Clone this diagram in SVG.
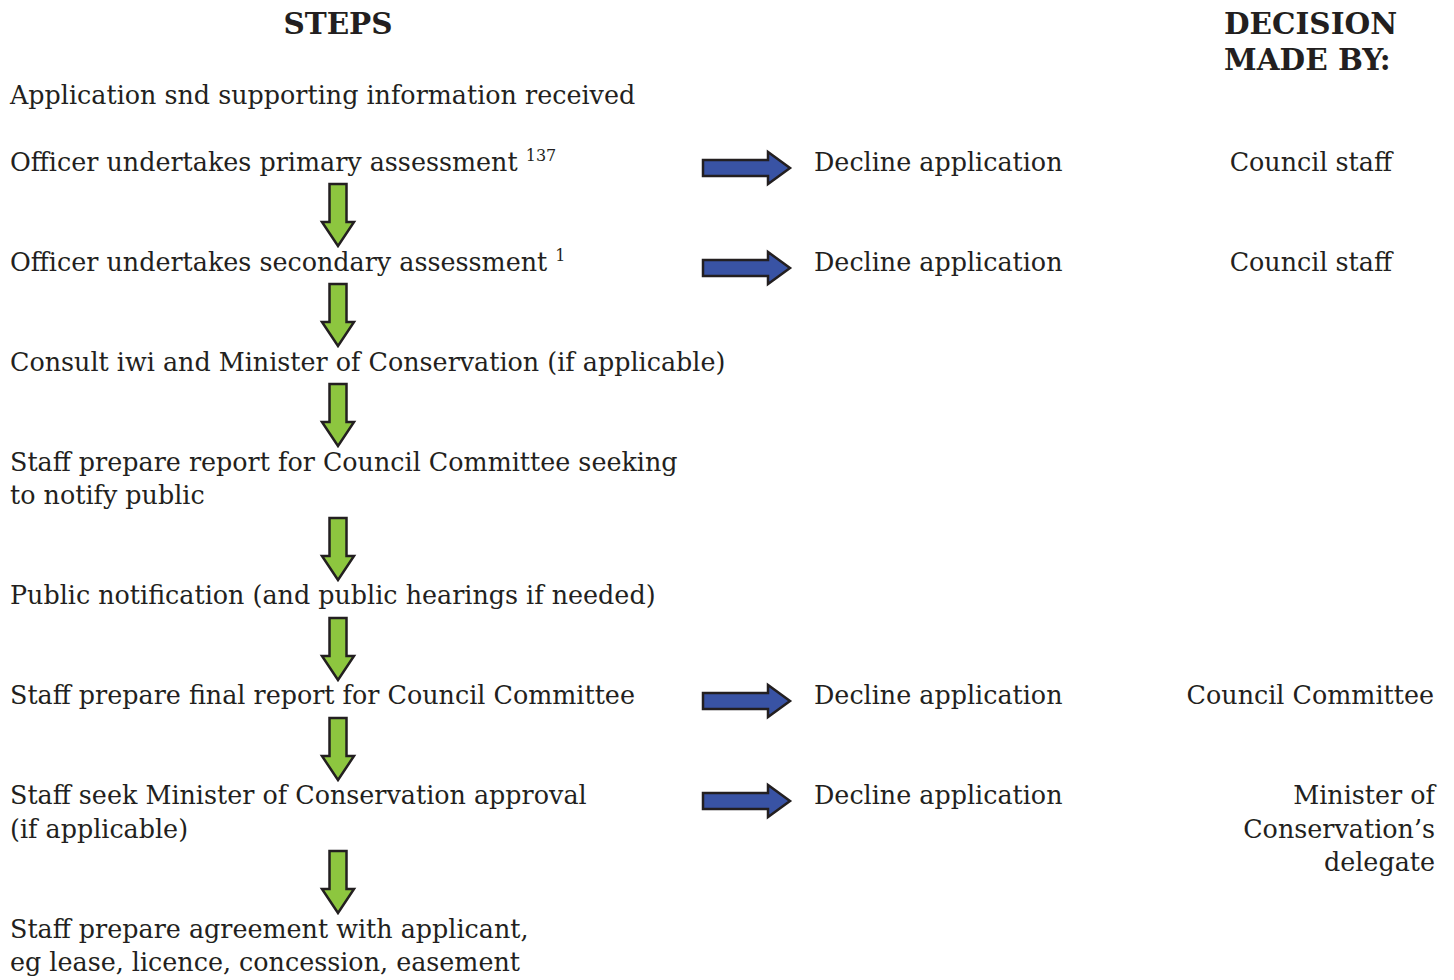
<svg xmlns="http://www.w3.org/2000/svg" width="1454" height="980" viewBox="0 0 1454 980">
<style>
text{font-family:"DejaVu Serif","Liberation Serif",serif;fill:#231f20;font-size:25.4px}
.h{font-weight:bold;font-size:29.5px}
.r{text-anchor:end}
.g{fill:#8dc63f;stroke:#231f20;stroke-width:2.5;stroke-linejoin:miter}
.b{fill:#3953a4;stroke:#231f20;stroke-width:2.5;stroke-linejoin:miter}
.sup{font-size:16px}
</style>
<defs>
<path id="ga" class="g" d="M-8.5,0 H8.5 V38 H16 L0,62 L-16,38 H-8.5 Z"/>
<path id="ba" class="b" d="M0,-8 H65 V-16 L87,0 L65,16 V8 H0 Z"/>
</defs>
<g id="headers">
<text class="h" x="338" y="34" text-anchor="middle">STEPS</text>
<text class="h" x="1224" y="34">DECISION</text>
<text class="h" x="1224" y="70">MADE BY:</text>
</g>
<g id="step1"><text x="10" y="104">Application snd supporting information received</text></g>
<g id="step2"><text x="10" y="171">Officer undertakes primary assessment <tspan class="sup" dy="-10">137</tspan></text></g>
<g id="step3"><text x="10" y="271">Officer undertakes secondary assessment <tspan class="sup" dy="-10">1</tspan></text></g>
<g id="step4"><text x="10" y="371">Consult iwi and Minister of Conservation (if applicable)</text></g>
<g id="step5"><text x="10" y="471">Staff prepare report for Council Committee seeking</text><text x="10" y="504">to notify public</text></g>
<g id="step6"><text x="10" y="604">Public notification (and public hearings if needed)</text></g>
<g id="step7"><text x="10" y="704">Staff prepare final report for Council Committee</text></g>
<g id="step8"><text x="10" y="804">Staff seek Minister of Conservation approval</text><text x="10" y="838">(if applicable)</text></g>
<g id="step9"><text x="10" y="938">Staff prepare agreement with applicant,</text><text x="10" y="971">eg lease, licence, concession, easement</text></g>
<g id="decline1"><text x="814" y="171">Decline application</text></g>
<g id="decline2"><text x="814" y="271">Decline application</text></g>
<g id="decline3"><text x="814" y="704">Decline application</text></g>
<g id="decline4"><text x="814" y="804">Decline application</text></g>
<g id="by1"><text class="r" x="1392" y="171">Council staff</text></g>
<g id="by2"><text class="r" x="1392" y="271">Council staff</text></g>
<g id="by3"><text class="r" x="1434" y="704">Council Committee</text></g>
<g id="by4"><text class="r" x="1435" y="804">Minister of</text><text class="r" x="1435" y="838">Conservation’s</text><text class="r" x="1435" y="871">delegate</text></g>
<g id="connectors">
<use href="#ga" x="338" y="184"/>
<use href="#ga" x="338" y="284"/>
<use href="#ga" x="338" y="384"/>
<use href="#ga" x="338" y="518"/>
<use href="#ga" x="338" y="618"/>
<use href="#ga" x="338" y="718"/>
<use href="#ga" x="338" y="851"/>
<use href="#ba" x="703" y="168"/>
<use href="#ba" x="703" y="268"/>
<use href="#ba" x="703" y="701"/>
<use href="#ba" x="703" y="801"/>
</g>
</svg>
